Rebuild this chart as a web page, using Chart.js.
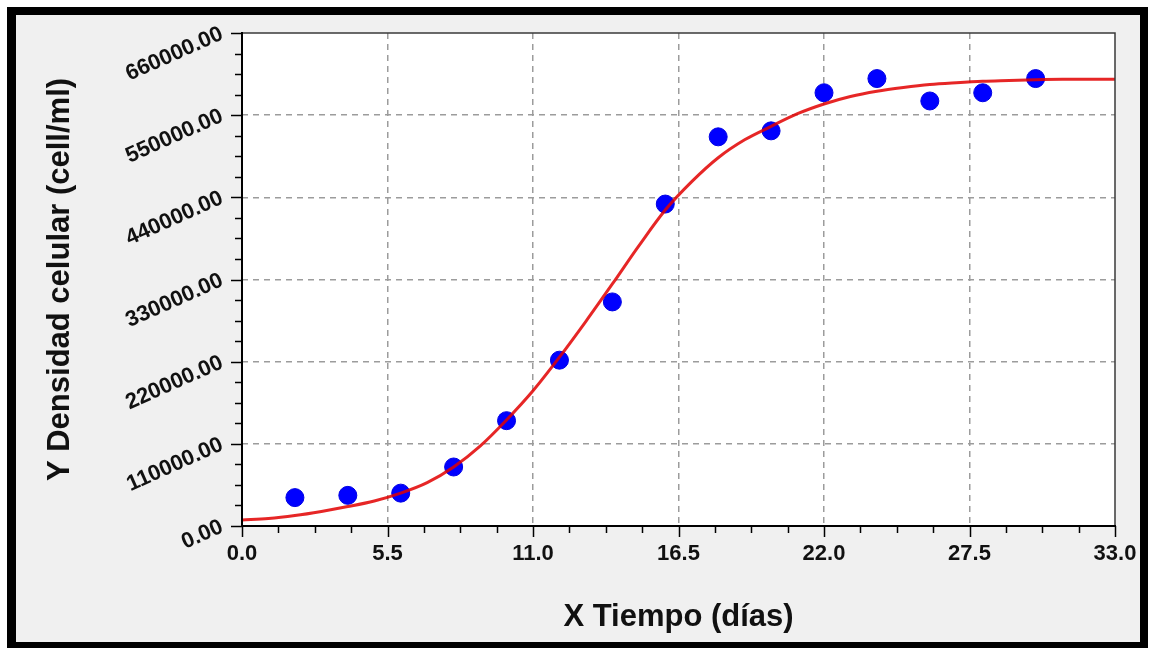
<!DOCTYPE html>
<html lang="es">
<head>
<meta charset="utf-8">
<title>Densidad celular vs tiempo</title>
<script src="https://cdn.jsdelivr.net/npm/chart.js@4/dist/chart.umd.min.js"></script>
<style>
  html, body { margin: 0; padding: 0; background: #ffffff; }
  #wrap { width: 1151px; height: 648px; position: relative; }
  canvas { display: block; }
</style>
</head>
<body>
<div id="wrap"><canvas id="chart" width="1151" height="648"></canvas></div>
<script>
// Measured cell density (cell/ml) by day
const timeDays = [2, 4, 6, 8, 10, 12, 14, 16, 18, 20, 22, 24, 26, 28, 30];
const cellDensity = [38000, 41000, 44000, 79000, 141000, 222000, 300000, 431000,
                     521000, 529000, 580000, 599000, 569000, 580000, 599000];

// Fitted growth curve, one value per day
const fitTime = [0, 1, 2, 3, 4, 5, 6, 7, 8, 9, 10, 11, 12, 13, 14, 15, 16,
                 17, 18, 19, 20, 21, 22, 23, 24, 25, 26, 27, 28, 29, 30, 31, 32, 33];
const fitDensity = [8000, 10000, 14000, 19500, 26000, 33500, 44000, 58000, 79000,
                    107000, 142000, 181000, 226000, 274000, 324000, 375000, 423000,
                    461000, 493000, 517000, 535000, 552000, 565000, 575000, 582000,
                    587000, 591000, 593500, 595500, 596500, 597500, 598000, 598000, 598000];

// Labelled axis ticks
const xMajorTicks = [0, 5.5, 11, 16.5, 22, 27.5, 33];
const yMajorTicks = [0, 110000, 220000, 330000, 440000, 550000, 660000];
const minorDivisions = 4;

const FONT = '"Liberation Sans", Arial, Helvetica, sans-serif';

function withMinor(majors) {
  const out = [];
  for (let i = 0; i < majors.length; i++) {
    out.push(majors[i]);
    if (i < majors.length - 1) {
      const step = (majors[i + 1] - majors[i]) / minorDivisions;
      for (let k = 1; k < minorDivisions; k++) out.push(majors[i] + k * step);
    }
  }
  return out;
}
function isMajor(list, v) {
  return list.some(m => Math.abs(m - v) < 1e-6 * Math.max(1, Math.abs(m)));
}
function isInnerMajor(list, v) {
  return isMajor(list, v) && Math.abs(v - list[0]) > 1e-9 && Math.abs(v - list[list.length - 1]) > 1e-9;
}

const xTickValues = withMinor(xMajorTicks);
const yTickValues = withMinor(yMajorTicks);

// Window frame, panel background, plot border and tick marks
const framePlugin = {
  id: 'frame',
  beforeDraw(chart) {
    const ctx = chart.ctx;
    const W = chart.width, H = chart.height;
    const a = chart.chartArea;
    ctx.save();
    ctx.fillStyle = '#ffffff';
    ctx.fillRect(0, 0, W, H);
    ctx.fillStyle = '#000000';
    ctx.fillRect(7, 7, 1141, H - 7);
    ctx.fillStyle = '#f0f0f0';
    ctx.fillRect(16, 15, 1124, 627);
    ctx.fillStyle = '#ffffff';
    ctx.fillRect(a.left, a.top, a.right - a.left, a.bottom - a.top);
    ctx.restore();
  },
  afterDraw(chart) {
    const ctx = chart.ctx;
    const a = chart.chartArea;
    const xs = chart.scales.x, ys = chart.scales.y;
    ctx.save();
    // top and right edges of the plot
    ctx.strokeStyle = '#3a3a3a';
    ctx.lineWidth = 1.5;
    ctx.beginPath();
    ctx.moveTo(a.left, a.top);
    ctx.lineTo(a.right, a.top);
    ctx.lineTo(a.right, a.bottom);
    ctx.stroke();
    // axes
    ctx.strokeStyle = '#000000';
    ctx.lineWidth = 2;
    ctx.beginPath();
    ctx.moveTo(a.left, a.top - 1);
    ctx.lineTo(a.left, a.bottom);
    ctx.lineTo(a.right + 1, a.bottom);
    ctx.stroke();
    // tick marks
    ctx.lineWidth = 1.5;
    ctx.beginPath();
    xs.ticks.forEach(t => {
      const px = Math.round(xs.getPixelForValue(t.value)) + 0.5;
      const len = isMajor(xMajorTicks, t.value) ? 11 : 7;
      ctx.moveTo(px, a.bottom);
      ctx.lineTo(px, a.bottom + len);
    });
    ys.ticks.forEach(t => {
      const py = Math.round(ys.getPixelForValue(t.value)) + 0.5;
      const len = isMajor(yMajorTicks, t.value) ? 11 : 7;
      ctx.moveTo(a.left, py);
      ctx.lineTo(a.left - len, py);
    });
    ctx.stroke();
    ctx.restore();
  }
};

const gridColor = (majors) => (c) =>
  (c.tick && isInnerMajor(majors, c.tick.value)) ? '#9c9c9c' : 'rgba(0,0,0,0)';

new Chart(document.getElementById('chart'), {
  type: 'scatter',
  data: {
    datasets: [
      {
        label: 'Ajuste',
        data: fitTime.map((t, i) => ({ x: t, y: fitDensity[i] })),
        showLine: true,
        borderColor: 'rgba(226,0,0,0.85)',
        borderWidth: 3,
        pointRadius: 0,
        pointHoverRadius: 0,
        cubicInterpolationMode: 'monotone',
        fill: false,
        order: 0
      },
      {
        label: 'Datos',
        data: timeDays.map((t, i) => ({ x: t, y: cellDensity[i] })),
        showLine: false,
        pointRadius: 9,
        pointBackgroundColor: '#0000ff',
        pointBorderColor: '#0000e6',
        pointBorderWidth: 1,
        order: 1
      }
    ]
  },
  options: {
    responsive: false,
    animation: false,
    devicePixelRatio: 1,
    layout: { padding: { left: 0, top: 33, right: 36, bottom: 0 } },
    plugins: {
      legend: { display: false },
      tooltip: { enabled: false },
      title: { display: false }
    },
    scales: {
      x: {
        type: 'linear',
        min: 0,
        max: 33,
        afterBuildTicks: (s) => { s.ticks = xTickValues.map(v => ({ value: v })); },
        afterFit: (s) => { s.height = 122; },
        ticks: {
          autoSkip: false,
          maxRotation: 0,
          minRotation: 0,
          padding: 5,
          color: '#111111',
          font: { family: FONT, size: 22, weight: 'bold' },
          callback: (v) => isMajor(xMajorTicks, v) ? Number(v).toFixed(1) : ''
        },
        grid: {
          color: gridColor(xMajorTicks),
          lineWidth: 1.5,
          drawTicks: true,
          tickLength: 10,
          tickColor: 'rgba(0,0,0,0)'
        },
        border: { display: false, dash: [6, 5] },
        title: {
          display: true,
          text: 'X Tiempo (días)',
          color: '#111111',
          font: { family: FONT, size: 31, weight: 'bold', lineHeight: 1.2 },
          padding: { top: 0, bottom: 12 }
        }
      },
      y: {
        type: 'linear',
        min: 0,
        max: 660000,
        afterBuildTicks: (s) => { s.ticks = yTickValues.map(v => ({ value: v })); },
        afterFit: (s) => { s.width = 242; },
        ticks: {
          autoSkip: false,
          minRotation: 24,
          maxRotation: 24,
          padding: 10,
          color: '#111111',
          font: { family: FONT, size: 22, weight: 'bold' },
          callback: (v) => isMajor(yMajorTicks, v) ? Number(v).toFixed(2) : ''
        },
        grid: {
          color: gridColor(yMajorTicks),
          lineWidth: 1.5,
          drawTicks: true,
          tickLength: 10,
          tickColor: 'rgba(0,0,0,0)'
        },
        border: { display: false, dash: [6, 5] },
        title: {
          display: true,
          text: 'Y Densidad celular (cell/ml)',
          color: '#111111',
          font: { family: FONT, size: 31, weight: 'bold', lineHeight: 1.2 },
          padding: { top: 42, bottom: 0 }
        }
      }
    }
  },
  plugins: [framePlugin]
});
</script>
</body>
</html>
